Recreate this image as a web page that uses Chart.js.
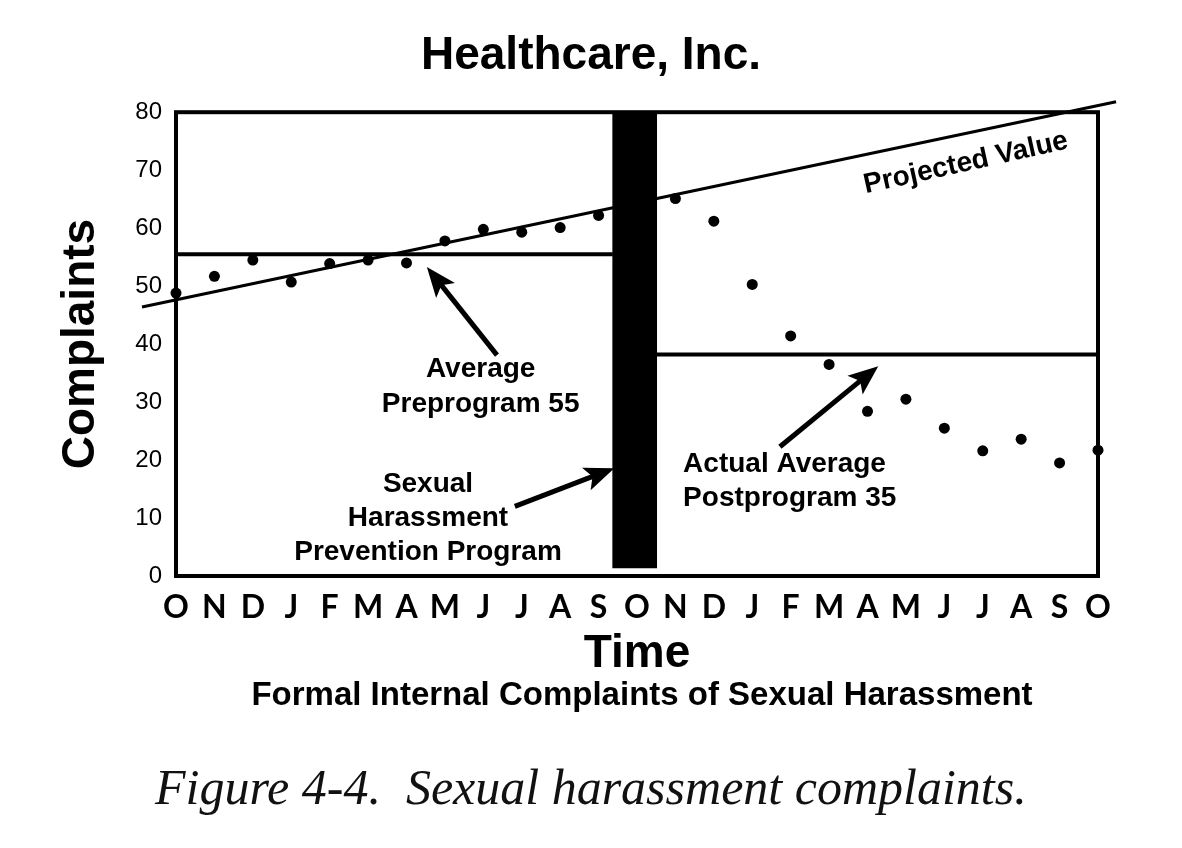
<!DOCTYPE html>
<html>
<head>
<meta charset="utf-8">
<script src="https://cdn.jsdelivr.net/npm/chart.js@4.4.1/dist/chart.umd.min.js"></script>
<style>
  html, body { margin: 0; padding: 0; background: #fff; }
  #wrap { position: relative; width: 1182px; height: 848px; overflow: hidden; }
  canvas { display: block; }
  #caption { position: absolute; left: 155px; top: 762px; font: italic 50px "Liberation Serif", "DejaVu Serif", serif; line-height: 50px; color: #111; white-space: pre; }
</style>
</head>
<body>
<div id="wrap">
  <canvas id="c" width="1182" height="848"></canvas>
  <div id="caption">Figure 4-4.  Sexual harassment complaints.</div>
</div>
<script>
// ---- data ----
const monthLabels = ['O','N','D','J','F','M','A','M','J','J','A','S','O','N','D','J','F','M','A','M','J','J','A','S','O'];
const complaints = [48.8, 51.7, 54.5, 50.7, 53.9, 54.5, 54.0, 57.8, 59.8, 59.3, 60.1, 62.2, null,
                    65.1, 61.2, 50.3, 41.4, 36.5, 28.4, 30.5, 25.5, 21.6, 23.6, 19.5, 21.7];
const projectedX = [-0.885, 24.47];
const projectedY = [46.4, 81.8];
const preAverageX = [0, 11.37];
const preAverageY = [55.5, 55.5];
const postAverageX = [12.51, 24];
const postAverageY = [38.2, 38.2];
const programX = [11.94];
const programRange = [[1.4, 80]];
const yMin = 0, yMax = 80, yStep = 10;

// ---- annotations (in data units) ----
const notes = [
  { text: 'Average', x: 7.93, y: 35.6, align: 'center' },
  { text: 'Preprogram 55', x: 7.93, y: 29.7, align: 'center' },
  { text: 'Sexual', x: 6.56, y: 15.9, align: 'center' },
  { text: 'Harassment', x: 6.56, y: 10.0, align: 'center' },
  { text: 'Prevention Program', x: 6.56, y: 4.1, align: 'center' },
  { text: 'Actual Average', x: 13.2, y: 19.3, align: 'left' },
  { text: 'Postprogram 35', x: 13.2, y: 13.4, align: 'left' }
];
const projectedNote = { text: 'Projected Value', x: 20.56, y: 71.2, angle: -12.5 };
const arrows = [
  { from: [8.356, 38.1], to: [6.53, 53.3] },
  { from: [8.82, 12.0], to: [11.41, 18.6] },
  { from: [15.72, 22.3], to: [18.28, 36.2] }
];

const pts = (xs, ys) => xs.map((v, i) => ({ x: v, y: ys[i] }));
const complaintPts = complaints.map((v, i) => (v === null ? null : { x: i, y: v })).filter(p => p);

function drawArrow(ctx, x1, y1, x2, y2) {
  const ang = Math.atan2(y2 - y1, x2 - x1);
  const c = Math.cos(ang), s = Math.sin(ang);
  const L = 30, W = 12;
  ctx.lineWidth = 5;
  ctx.lineCap = 'butt';
  ctx.beginPath();
  ctx.moveTo(x1, y1);
  ctx.lineTo(x2 - L * 0.7 * c, y2 - L * 0.7 * s);
  ctx.stroke();
  const bx = x2 - L * c, by = y2 - L * s;
  ctx.beginPath();
  ctx.moveTo(x2, y2);
  ctx.lineTo(bx - W * s, by + W * c);
  ctx.lineTo(x2 - L * 0.78 * c, y2 - L * 0.78 * s);
  ctx.lineTo(bx + W * s, by - W * c);
  ctx.closePath();
  ctx.fill();
}

const decor = {
  id: 'decor',
  afterDatasetsDraw(chart) {
    const { ctx, chartArea: a, scales: { x, y } } = chart;
    ctx.save();
    ctx.strokeStyle = '#000';
    ctx.fillStyle = '#000';
    // frame
    ctx.lineWidth = 4;
    ctx.strokeRect(a.left, a.top, a.right - a.left, a.bottom - a.top);
    // notes
    ctx.font = 'bold 28px "Liberation Sans", Arial, sans-serif';
    ctx.textBaseline = 'middle';
    notes.forEach(n => {
      ctx.textAlign = n.align;
      ctx.fillText(n.text, x.getPixelForValue(n.x), y.getPixelForValue(n.y));
    });
    // projected label
    ctx.save();
    ctx.translate(x.getPixelForValue(projectedNote.x), y.getPixelForValue(projectedNote.y));
    ctx.rotate(projectedNote.angle * Math.PI / 180);
    ctx.textAlign = 'center';
    ctx.fillText(projectedNote.text, 0, 0);
    ctx.restore();
    // arrows
    arrows.forEach(ar => drawArrow(ctx,
      x.getPixelForValue(ar.from[0]), y.getPixelForValue(ar.from[1]),
      x.getPixelForValue(ar.to[0]), y.getPixelForValue(ar.to[1])));
    // subtitle
    ctx.font = 'bold 33px "Liberation Sans", Arial, sans-serif';
    ctx.textAlign = 'center';
    ctx.textBaseline = 'alphabetic';
    ctx.fillText('Formal Internal Complaints of Sexual Harassment', (a.left + a.right) / 2 + 5, 705);
    ctx.restore();
  }
};

new Chart(document.getElementById('c'), {
  type: 'line',
  data: {
    datasets: [
      {
        type: 'bar', label: 'Program', data: programX.map((v, i) => ({ x: v, y: programRange[i] })),
        backgroundColor: '#000', borderWidth: 0, barThickness: 44, order: 0
      },
      {
        label: 'Projected Value', data: pts(projectedX, projectedY),
        borderColor: '#000', borderWidth: 3, pointRadius: 0, clip: false, order: 3
      },
      {
        label: 'Average Preprogram', data: pts(preAverageX, preAverageY),
        borderColor: '#000', borderWidth: 4, pointRadius: 0, order: 3
      },
      {
        label: 'Average Postprogram', data: pts(postAverageX, postAverageY),
        borderColor: '#000', borderWidth: 4, pointRadius: 0, order: 3
      },
      {
        label: 'Complaints', data: complaintPts, showLine: false,
        pointRadius: 5.5, pointBackgroundColor: '#000', pointBorderWidth: 0, clip: false, order: 1
      }
    ]
  },
  options: {
    responsive: false,
    animation: false,
    devicePixelRatio: 1,
    layout: { padding: { left: 0, right: 0, top: 0, bottom: 166 } },
    plugins: {
      legend: { display: false },
      tooltip: { enabled: false },
      title: {
        display: true, text: 'Healthcare, Inc.', color: '#000',
        font: { family: '"Liberation Sans", Arial, sans-serif', size: 46, weight: 'bold' },
        padding: { top: 29, bottom: 28 }
      }
    },
    scales: {
      x: {
        type: 'linear', min: 0, max: 24, offset: false,
        grid: { display: false, drawTicks: false, offset: false },
        border: { display: false },
        ticks: {
          stepSize: 1, autoSkip: false, maxRotation: 0, padding: 12, color: '#000',
          font: { family: 'Lato, "Liberation Sans", sans-serif', size: 32, weight: 'bold' },
          callback: v => monthLabels[v]
        },
        title: {
          display: true, text: 'Time', color: '#000', padding: { top: 0, bottom: 0 },
          font: { family: '"Liberation Sans", Arial, sans-serif', size: 46, weight: 'bold' }
        },
        afterFit: s => { s.height = 106; }
      },
      y: {
        min: yMin, max: yMax,
        grid: { display: false, drawTicks: false },
        border: { display: false },
        ticks: {
          stepSize: yStep, padding: 14, color: '#000',
          font: { family: '"Liberation Sans", Arial, sans-serif', size: 24 }
        },
        title: {
          display: true, text: 'Complaints', color: '#000', padding: { top: 54, bottom: 0 },
          font: { family: '"Liberation Sans", Arial, sans-serif', size: 46, weight: 'bold' }
        },
        afterFit: s => { s.width = 176; }
      },
      yRight: {
        position: 'right', min: yMin, max: yMax,
        grid: { display: false, drawTicks: false },
        border: { display: false },
        ticks: { display: false },
        afterFit: s => { s.width = 84; }
      }
    }
  },
  plugins: [decor]
});
</script>
</body>
</html>
